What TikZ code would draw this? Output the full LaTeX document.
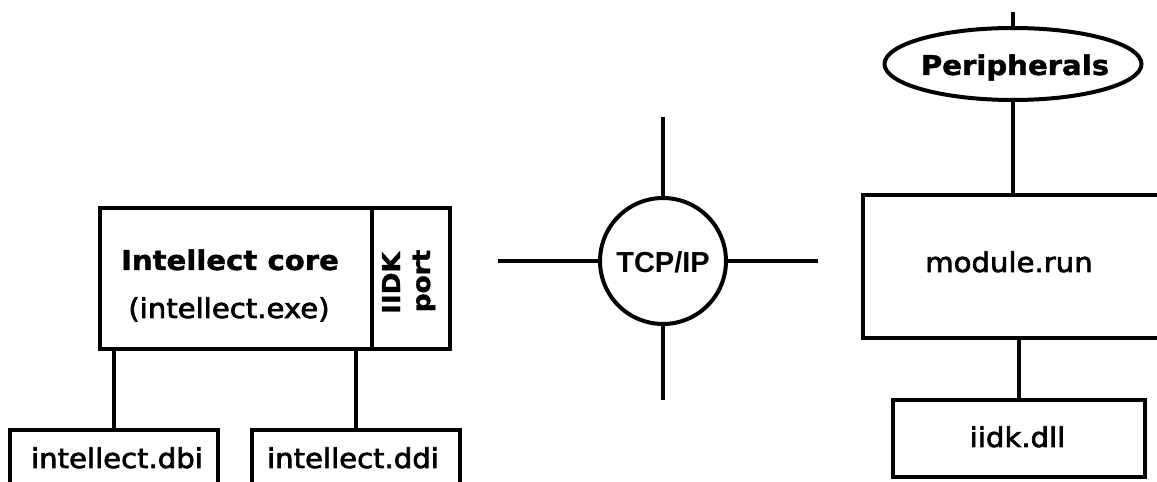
\documentclass[tikz,border=0pt]{standalone}
\usepackage{fontspec}
\setmainfont{DejaVu Sans}[FakeStretch=1.07, FakeBold=2.5, BoldFeatures={FakeBold=1.5}]
\newfontfamily\tcpfont{Liberation Sans}
\usetikzlibrary{shapes.geometric}
\tikzset{
  box/.style={draw, line width=0.08cm, rectangle, inner sep=0pt, fill=white},
  conn/.style={draw, line width=0.08cm},
  lbl/.style={inner sep=0pt, anchor=base, font=\fontsize{15.5pt}{18pt}\selectfont},
  blbl/.style={lbl, font=\fontsize{15.5pt}{18pt}\selectfont\bfseries},
  vlbl/.style={lbl, rotate=90, font=\fontsize{14pt}{17pt}\selectfont\bfseries},
}
\begin{document}
\begin{tikzpicture}[x=0.02cm, y=-0.02cm]
\useasboundingbox (0,0) rectangle (1157,482);
\clip (0,0) rectangle (1157,482);
\fill[white] (0,0) rectangle (1157,482);
% left group
\node[box, minimum width=5.44cm, minimum height=2.82cm] (core) at (236,278.5) {};
\node[box, minimum width=1.56cm, minimum height=2.82cm] (port) at (411,278.5) {};
\node[blbl] (coret) at (230,270) {Intellect core};
\node[lbl] (exet) at (229,318) {(intellect.exe)};
\node[vlbl] (iidkt) at (400,283) {IIDK};
\node[vlbl] (portt) at (430,281) {port};
\node[box, minimum width=4.16cm, minimum height=1.2cm] (dbi) at (114,460) {};
\node[box, minimum width=4.16cm, minimum height=1.2cm] (ddi) at (356,460) {};
\node[lbl] (dbit) at (117,468) {intellect.dbi};
\node[lbl] (ddit) at (353,468) {intellect.ddi};
\draw[conn] (dbi.north) -- (dbi.north |- core.south);
\draw[conn] (ddi.north) -- (ddi.north |- core.south);
% TCP/IP
\node[box, circle, minimum size=2.52cm] (tcp) at (663,261) {};
\node[lbl, font=\fontsize{16.5pt}{19pt}\selectfont\tcpfont\bfseries] (tcpt) at (663,273) {TCP/IP};
\coordinate (tl) at (498,261);
\coordinate (tr) at (818,261);
\coordinate (tt) at (663,117);
\coordinate (tb) at (663,400);
\draw[conn] (tcp.west) -- (tl);
\draw[conn] (tcp.east) -- (tr);
\draw[conn] (tcp.north) -- (tt);
\draw[conn] (tcp.south) -- (tb);
% right group
\node[box, ellipse, minimum width=5.14cm, minimum height=1.44cm] (per) at (1013,64) {};
\node[blbl] (pert) at (1015,75) {Peripherals};
\coordinate (ptop) at (1013,12);
\draw[conn] (per.north) -- (ptop);
\node[box, minimum width=5.94cm, minimum height=2.86cm] (mod) at (1011.5,266.5) {};
\node[lbl] (modt) at (1009,272) {module.run};
\draw[conn] (per.south) -- (per.south |- mod.north);
\node[box, minimum width=5.04cm, minimum height=1.54cm] (dll) at (1019,438.5) {};
\node[lbl] (dllt) at (1017.5,447) {iidk.dll};
\draw[conn] (dll.north) -- (dll.north |- mod.south);
\end{tikzpicture}
\end{document}
